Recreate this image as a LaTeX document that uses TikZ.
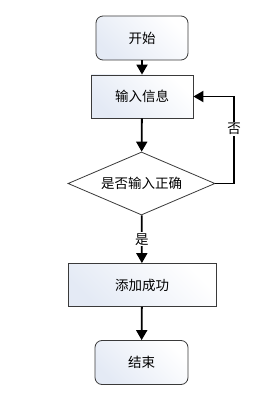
\documentclass[tikz,border=0pt]{standalone}
\usepackage{fontspec}
\newfontfamily\cjk{Noto Sans CJK SC}
\usetikzlibrary{shapes.geometric,arrows.meta}
\definecolor{boxline}{HTML}{3A3A3A}
\definecolor{boxfillA}{HTML}{E4EAF5}
\begin{document}
\begin{tikzpicture}[x=1pt,y=1pt,
  txt/.style={font=\cjk\fontsize{13.5}{15}\selectfont, text=black},
  base/.style={txt, draw=boxline, line width=0.8pt, left color=boxfillA, right color=white, shading angle=135, inner sep=0pt},
  term/.style={base, rounded corners=7pt, minimum width=92pt, minimum height=44pt},
  proc/.style={base, minimum height=43pt},
  dec/.style={txt, draw=boxline, line width=0.8pt, fill=white, diamond, aspect=2.33, inner sep=0pt, minimum width=147pt, minimum height=63pt},
  conn/.style={line width=1.8pt, -{Triangle[width=11pt,length=10pt]}},
  lbl/.style={txt, fill=white, inner sep=1pt}
]
\useasboundingbox (0,0) rectangle (273,-393);
\node[term] (start) at (142,-38) {开始};
\node[proc, minimum width=102pt] (input) at (142,-96.5) {输入信息};
\node[dec] (check) at (141.5,-183.5) {是否输入正确};
\node[proc, minimum width=148pt] (add) at (142,-285) {添加成功};
\node[term, minimum width=93pt] (end) at (141.5,-362.5) {结束};
\coordinate (c1) at (234,-183.5);
\coordinate (c2) at (234,-96.5);
\draw[conn] (start) -- (input);
\draw[conn] (input) -- (check);
\draw[conn] (check) -- node[lbl, pos=0.5] {是} (add);
\draw[conn] (add) -- (end);
\draw[conn] (check.east) -- (c1) -- node[lbl, pos=0.63] {否} (c2) -- (input.east);
\end{tikzpicture}
\end{document}
